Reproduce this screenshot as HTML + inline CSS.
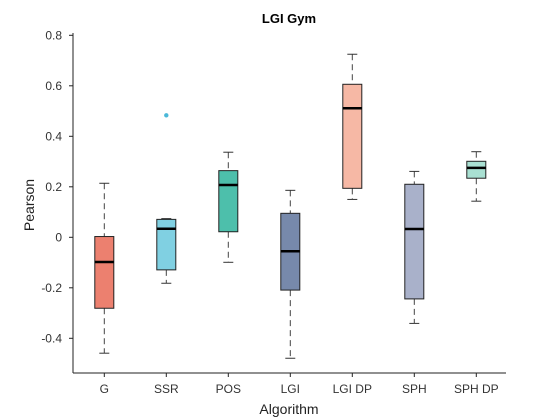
<!DOCTYPE html>
<html><head><meta charset="utf-8"><style>
html,body{margin:0;padding:0;background:#fff;}
svg{display:block;font-family:"Liberation Sans",Arial,sans-serif;}
</style></head><body>
<svg id="chart" width="560" height="420" viewBox="0 0 560 420" xmlns="http://www.w3.org/2000/svg">
<rect width="560" height="420" fill="#fff"/>
<text x="289" y="23" text-anchor="middle" font-size="13" font-weight="bold" fill="#000">LGI Gym</text>
<text transform="translate(34,205) rotate(-90)" text-anchor="middle" font-size="14" fill="#222">Pearson</text>
<text x="289" y="414" text-anchor="middle" font-size="14" fill="#222">Algorithm</text>
<g id="plot"></g>
</svg>
<script>
const categories = ["G","SSR","POS","LGI","LGI DP","SPH","SPH DP"];
const whiskerLow = [-0.459,-0.182,-0.099,-0.479,0.150,-0.341,0.143];
const q1 = [-0.281,-0.129,0.022,-0.209,0.194,-0.244,0.234];
const medians = [-0.098,0.034,0.207,-0.055,0.511,0.033,0.275];
const q3 = [0.003,0.071,0.264,0.095,0.606,0.210,0.301];
const whiskerHigh = [0.214,0.074,0.337,0.186,0.725,0.261,0.339];
const outlierCategory = [1];
const outlierValues = [0.483];
const yTicks = [-0.4,-0.2,0,0.2,0.4,0.6,0.8];
const yTickLabels = ["-0.4","-0.2","0","0.2","0.4","0.6","0.8"];
const colors = ["#ec806f","#80d0e2","#4dbfab","#7789ab","#f6b8a5","#a9b1ca","#a9e0d2"];

const NS="http://www.w3.org/2000/svg";
const g=document.getElementById('plot');
const X0=73,XR=506,YB=373,YT=33;
function y(v){return 237.3-v*252.5;}
function x(i){return 104.3+i*62;}
function mk(t,a){const e=document.createElementNS(NS,t);for(const k in a)e.setAttribute(k,a[k]);g.appendChild(e);return e;}

let ax=mk('line',{x1:X0,y1:YT,x2:X0,y2:YB,stroke:'#222','stroke-width':1});


ax=mk('line',{x1:X0,y1:YB,x2:XR,y2:YB,stroke:'#222','stroke-width':1});



yTicks.forEach((v,i)=>{
  const t=mk('line',{x1:X0-4,y1:y(v),x2:X0,y2:y(v),stroke:'#222'});
  
  
  const l=mk('text',{x:X0-11,y:y(v)+4,'text-anchor':'end','font-size':'12',fill:'#333'});
  l.textContent=yTickLabels[i];
  
  
});

categories.forEach((c,i)=>{
  const cx=x(i),hw=9.5,cw=5;
  const t=mk('line',{x1:cx,y1:YB,x2:cx,y2:YB+4,stroke:'#222'});
  
  
  const l=mk('text',{x:cx,y:YB+20,'text-anchor':'middle','font-size':'12',fill:'#333'});
  l.textContent=c;
  
  
  const w1=mk('line',{x1:cx,y1:y(whiskerHigh[i]),x2:cx,y2:y(q3[i]),stroke:'#444','stroke-dasharray':'6,4'});
  
  
  const w2=mk('line',{x1:cx,y1:y(q1[i]),x2:cx,y2:y(whiskerLow[i]),stroke:'#444','stroke-dasharray':'6,4'});
  
  
  const c1=mk('line',{x1:cx-cw,y1:y(whiskerHigh[i]),x2:cx+cw,y2:y(whiskerHigh[i]),stroke:'#333'});
  
  
  const c2=mk('line',{x1:cx-cw,y1:y(whiskerLow[i]),x2:cx+cw,y2:y(whiskerLow[i]),stroke:'#333'});
  
  
  const b=mk('rect',{x:cx-hw,y:y(q3[i]),width:2*hw,height:y(q1[i])-y(q3[i]),fill:colors[i],stroke:'#222','stroke-width':1});
  
  
  const m=mk('line',{x1:cx-hw,y1:y(medians[i]),x2:cx+hw,y2:y(medians[i]),stroke:'#000','stroke-width':2.5});
  
  
});
outlierValues.forEach((v,k)=>{
  const o=mk('circle',{cx:x(outlierCategory[k]),cy:y(v),r:2.2,fill:'#4ab8d8'});
  
  
});
</script>
</body></html>
